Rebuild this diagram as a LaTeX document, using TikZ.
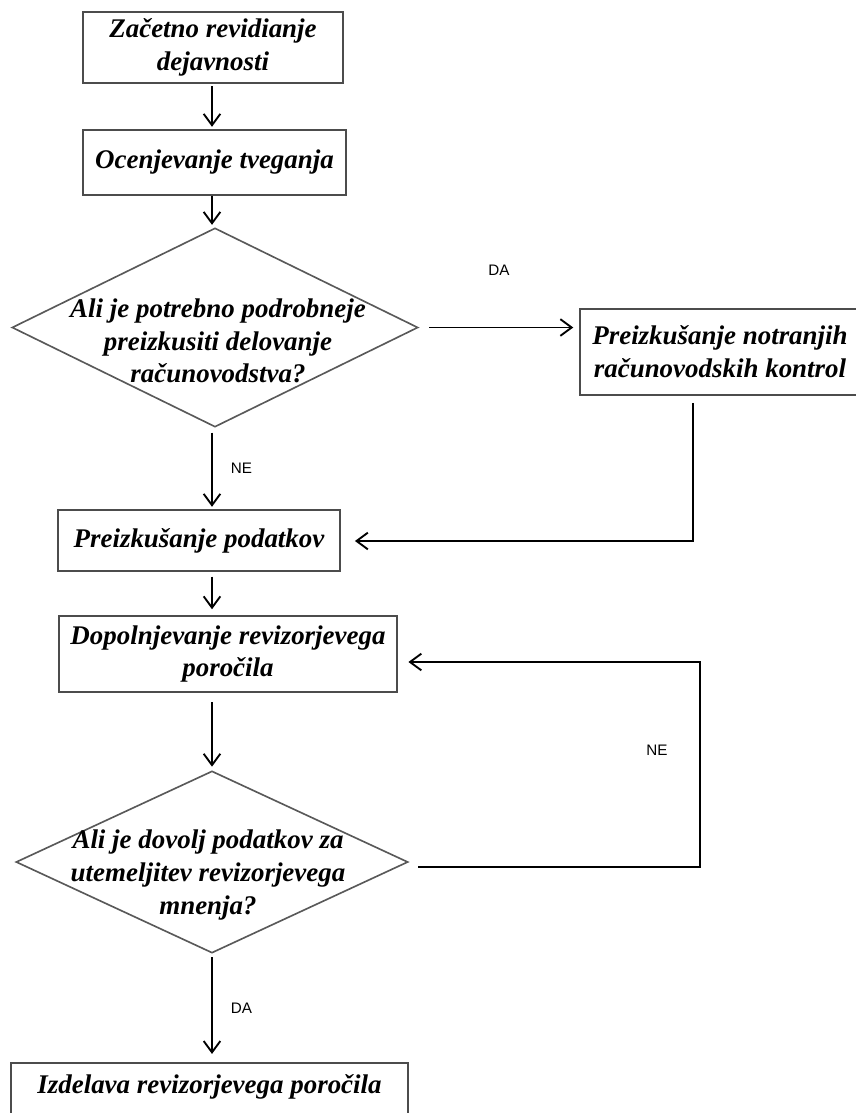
\documentclass[tikz,border=0pt]{standalone}
\usepackage{fontspec}
\setmainfont{Liberation Serif}
\newfontfamily\labelfont{Liberation Sans}
\usetikzlibrary{shapes.geometric,arrows.meta}

\tikzset{
  stepbox/.style={draw=black!70,line width=1.5pt,inner sep=0pt,align=center,
    font=\fontsize{23}{28}\selectfont\bfseries\itshape},
  decision/.style={draw=black!65,line width=1.4pt,diamond,inner sep=0pt},
  decisiontext/.style={align=center,font=\fontsize{23}{28}\selectfont\bfseries\itshape},
  answer/.style={font=\fontsize{13}{15}\selectfont\labelfont},
  flow/.style={line width=1.6pt,-{Straight Barb[length=3.4mm,width=5mm]}}
}

\begin{document}
\begin{tikzpicture}[x=0.03cm,y=-0.03cm]
        \useasboundingbox (0,0) rectangle (855,1113);
        \coordinate (col) at (212,0);
        \coordinate (back) at (700,662);

        \node [stepbox,minimum width=260*0.03cm,minimum height=71*0.03cm] (start) at (213,47.5)
          {Začetno revidianje\\dejavnosti};
        \node [stepbox,minimum width=263*0.03cm,minimum height=65*0.03cm] (risk) at (214.5,162.5)
          {Ocenjevanje tveganja};
        \node [decision,minimum width=406*0.03cm,minimum height=199*0.03cm] (q1) at (215,327.5) {};
        \node [decisiontext] (q1text) at (218,341)
          {Ali je potrebno podrobneje\\preizkusiti delovanje\\računovodstva?};
        \node [stepbox,minimum width=280*0.03cm,minimum height=86*0.03cm] (controls) at (720,352)
          {Preizkušanje notranjih\\računovodskih kontrol};
        \node [stepbox,minimum width=282*0.03cm,minimum height=61*0.03cm] (data) at (199,540.5)
          {Preizkušanje podatkov};
        \node [stepbox,minimum width=338*0.03cm,minimum height=76*0.03cm] (report) at (228,654)
          {Dopolnjevanje revizorjevega\\poročila};
        \node [decision,minimum width=392*0.03cm,minimum height=182*0.03cm] (q2) at (212,862) {};
        \node [decisiontext] (q2text) at (208,875)
          {Ali je dovolj podatkov za\\utemeljitev revizorjevega\\mnenja?};
        \node [stepbox,minimum width=397*0.03cm,minimum height=110*0.03cm] (final) at (209.5,1118)
          {};
        \node [stepbox,draw=none] (finaltext) at (209.5,1087) {Izdelava revizorjevega poročila};

        % main column
        \draw [flow,shorten <=2pt,shorten >=2pt] (start.south -| col) -- (risk.north -| col);
        \draw [flow,shorten >=2pt] (risk.south -| col) -- (q1.north -| col);
        \draw [flow,shorten <=4pt,shorten >=2pt] (q1.south -| col) -- (data.north -| col)
          node [answer,midway,right=12pt] (ne1) {NE};
        \draw [flow,shorten <=4pt,shorten >=5pt] (data.south -| col) -- (report.north -| col);
        \draw [flow,shorten <=8pt,shorten >=3pt] (report.south -| col) -- (q2.north -| col);
        \draw [flow,shorten <=3pt,shorten >=7pt] (q2.south -| col) -- (final.north -| col)
          node [answer,midway,right=12pt] (da2) {DA};

        % side branches
        \draw [flow,shorten <=9pt,shorten >=5pt] (q1.east) -- (controls.west |- q1.east)
          node [answer,midway,above=40pt] (da1) {DA};
        \draw [flow,shorten <=6pt,shorten >=12pt] (controls.south -| 693,0) |- (data.east |- 0,541);
        \draw [flow,shorten <=8pt,shorten >=9pt] (q2.east |- 0,867) -| (back)
          -- (report.east |- back);
        \node [answer] (ne2) at (657,750) {NE};
\end{tikzpicture}
\end{document}
